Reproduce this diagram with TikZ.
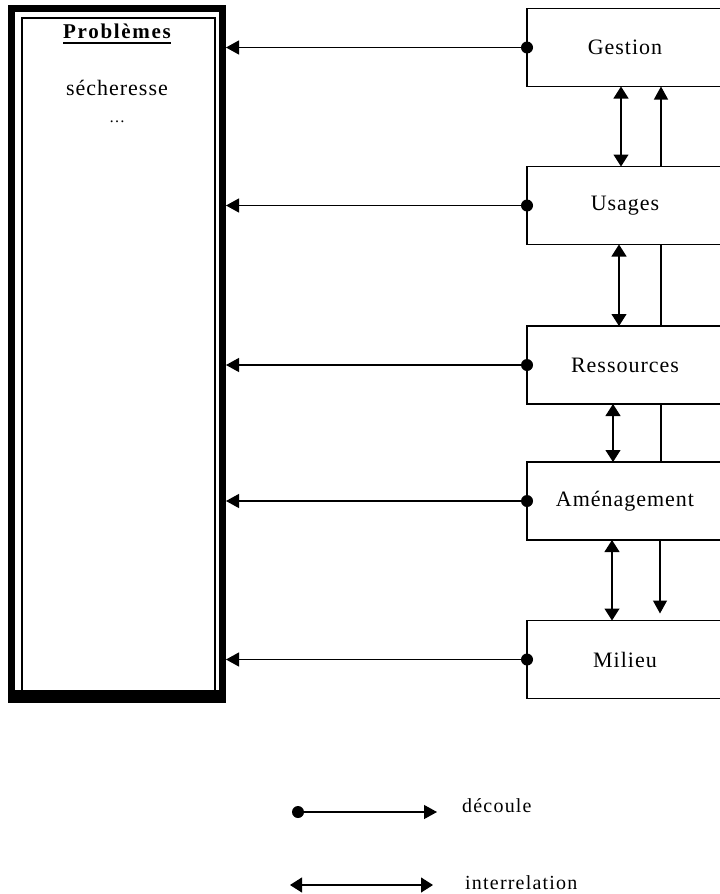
\documentclass[tikz,border=0pt]{standalone}
\usepackage{fontspec}
\setmainfont{Liberation Serif}
\newfontfamily\spaced[LetterSpace=4.5]{Liberation Serif}
\newfontfamily\spacedb[LetterSpace=8]{Liberation Serif}
\newfontfamily\spacedl[LetterSpace=6]{Liberation Serif}
\usetikzlibrary{arrows.meta}
\begin{document}
\begin{tikzpicture}[x=1pt,y=-1pt,
  box/.style={draw, line width=1.4pt, minimum width=196pt, minimum height=78pt,
    inner sep=0pt, outer sep=0pt, font=\spaced\fontsize{22}{24}\selectfont},
  link/.style={line width=1.2pt},
  tri/.style={-{Triangle[length=13pt,width=14pt]}},
  dbl/.style={{Triangle[length=12pt,width=15pt]}-{Triangle[length=12pt,width=15pt]}},
  lbl/.style={inner sep=0pt, font=\spacedl\fontsize{20}{22}\selectfont, anchor=base west}
]
\useasboundingbox (0,0) rectangle (720,894);

% left box
\node[minimum width=218pt, minimum height=698pt, inner sep=0pt, outer sep=0pt] (prob) at (117,353.5) {};
\draw[line width=7pt] (11.5,8) rectangle (222.5,699);
\draw[line width=2pt] (21.5,18) rectangle (214.5,691);
\fill (8,690) rectangle (226,702.5);
\node[inner sep=0pt, anchor=base, font=\spacedb\bfseries\fontsize{21}{23}\selectfont] (pb) at (117,38) {Problèmes};
\draw[line width=2.5pt] (pb.west |- 0,43) -- (pb.east |- 0,43);
\node[inner sep=0pt, anchor=base, font=\spaced\fontsize{22}{24}\selectfont] (sech) at (117,95) {sécheresse};
\node[inner sep=0pt, anchor=base, font=\fontsize{16}{18}\selectfont] (dots) at (117,122) {\dots};

% right boxes
\node[box] (g) at (625,47.5) {Gestion};
\node[box] (u) at (625,205.5) {Usages};
\node[box] (r) at (625,365) {Ressources};
\node[box] (a) at (625,501) {Aménagement};
\node[box] (m) at (625,659.5) {Milieu};

% horizontal connectors
\foreach \b in {g,u,r,a,m}{
  \draw[link,tri] (\b.west) -- (\b.west -| prob.east);
  \fill (\b.west) circle[radius=6pt];
}

% vertical connectors
\coordinate (x1) at (621,0);
\coordinate (x2) at (661,0);
\coordinate (x3) at (619,0);
\coordinate (x4) at (613,0);
\coordinate (x5) at (612,0);
\coordinate (x6) at (660,0);
\draw[link,dbl] (g.south -| x1) -- (u.north -| x1);
\draw[link,tri] (u.north -| x2) -- (g.south -| x2);
\draw[link,dbl] (u.south -| x3) -- (r.north -| x3);
\draw[link] (u.south -| x2) -- (r.north -| x2);
\draw[link,dbl] (r.south -| x4) -- (a.north -| x4);
\draw[link] (r.south -| x2) -- (a.north -| x2);
\draw[link,dbl] (a.south -| x5) -- (m.north -| x5);
\draw[link,tri,shorten >=7pt] (a.south -| x6) -- (m.north -| x6);

% legend
\coordinate (l1s) at (298,812);
\coordinate (l1e) at (437,812);
\draw[link,tri] (l1s) -- (l1e);
\fill (l1s) circle[radius=6pt];
\node[lbl] (ld) at (462,812) {découle};
\coordinate (l2s) at (290,885);
\coordinate (l2e) at (433,885);
\draw[link,dbl] (l2s) -- (l2e);
\node[lbl] (li) at (465,889) {interrelation};
\end{tikzpicture}
\end{document}
